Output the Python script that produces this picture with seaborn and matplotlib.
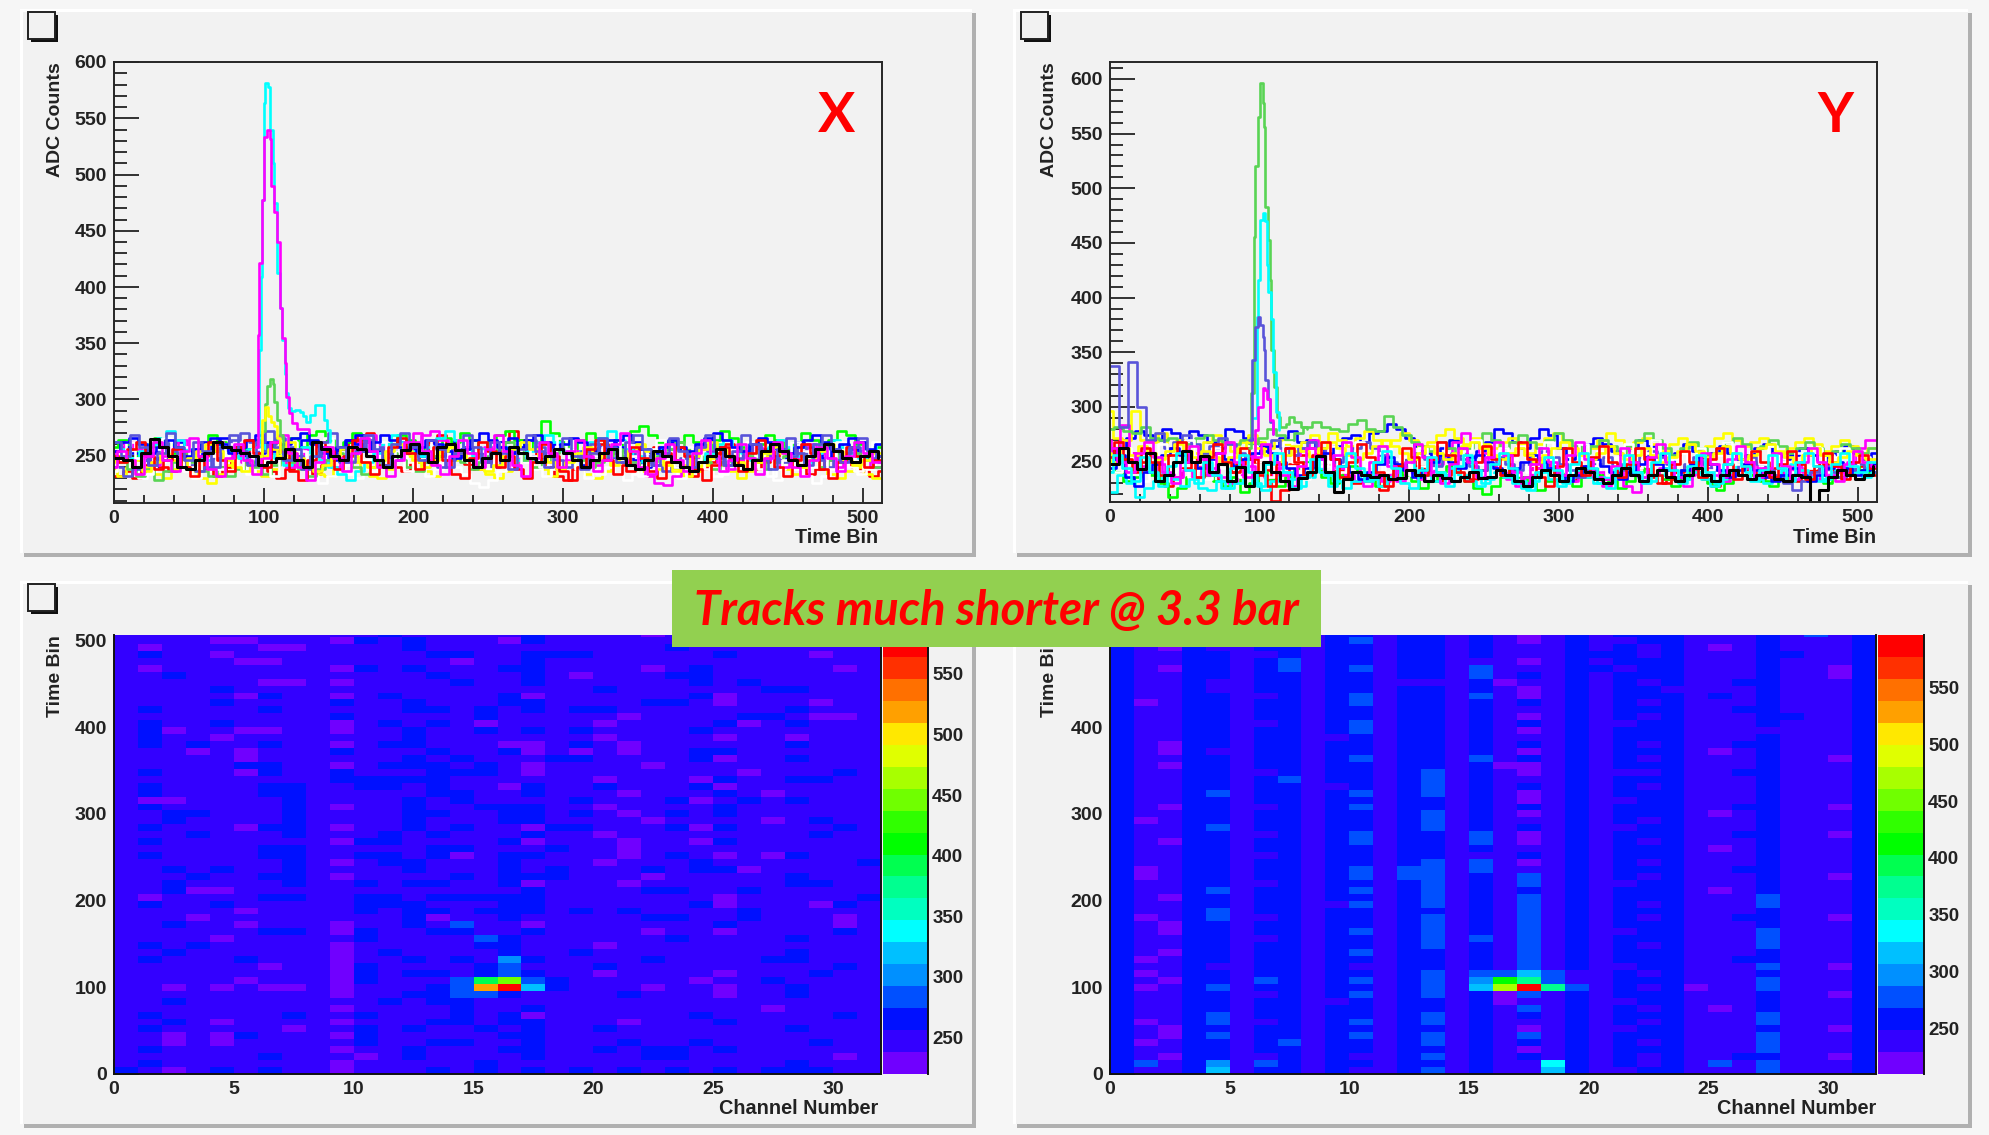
import numpy as np
import pandas as pd
import matplotlib
matplotlib.use('Agg')
import matplotlib.pyplot as plt
from matplotlib.colors import ListedColormap
from matplotlib.patches import Rectangle
from matplotlib.ticker import MultipleLocator
import seaborn as sns

# Trace colours (ROOT colour indices 2..10, then black on top)
RED = '#ff0000'
GREEN = '#00ff00'
BLUE = '#0000ff'
YELLOW = '#ffff00'
MAGENTA = '#ff00ff'
CYAN = '#00ffff'
SOFTGREEN = '#59d454'
VIOLET = '#5954d9'
WHITE = '#ffffff'
BLACK = '#000000'

# one value every 6 time bins
trace_bins = list(range(0, 516, 6))

# ---- X plane, baseline of each channel ----
x_red = [232, 236, 230, 242, 248, 240, 236, 245, 252, 246, 238, 232, 240, 248, 256, 250, 242, 236, 230, 238, 246, 240,
         234, 242, 250, 258, 262, 268, 270, 256, 248, 240, 236, 244, 252, 262, 268, 258, 250, 243, 238, 244, 254, 262,
         272, 264, 256, 248, 240, 232, 228, 238, 246, 254, 260, 252, 244, 236, 242, 250, 258, 252, 246, 240, 232, 238,
         244, 252, 260, 254, 246, 238, 244, 250, 256, 248, 240, 234, 238, 246, 254, 246, 240, 236, 232, 236]
x_green = [258, 264, 256, 250, 258, 266, 260, 252, 246, 254, 262, 268, 262, 255, 248, 256, 264, 258, 252, 260, 266, 258,
           268, 272, 264, 256, 262, 270, 264, 258, 254, 260, 268, 264, 256, 250, 258, 266, 262, 270, 264, 256, 262, 268,
           272, 264, 258, 262, 281, 270, 262, 256, 264, 270, 266, 258, 254, 262, 272, 276, 268, 262, 256, 262, 268, 262,
           256, 264, 272, 266, 258, 252, 260, 268, 264, 256, 262, 270, 264, 258, 264, 272, 268, 260, 254, 258]
x_blue = [262, 258, 252, 246, 240, 248, 256, 262, 254, 246, 252, 260, 266, 258, 250, 244, 252, 260, 254, 248, 256, 264,
          260, 252, 246, 256, 264, 268, 262, 254, 248, 256, 262, 256, 250, 244, 250, 258, 264, 258, 252, 246, 254, 262,
          266, 258, 250, 246, 252, 260, 256, 248, 242, 250, 258, 264, 258, 252, 246, 240, 248, 256, 262, 256, 250, 258,
          264, 258, 250, 244, 252, 260, 256, 250, 246, 254, 262, 258, 252, 248, 254, 260, 256, 250, 246, 250]
x_yellow = [238, 232, 240, 246, 240, 234, 230, 238, 244, 236, 230, 226, 234, 242, 248, 242, 236, 232, 238, 244, 252, 246,
            240, 234, 232, 240, 248, 244, 238, 232, 230, 238, 246, 250, 244, 236, 232, 240, 246, 252, 246, 238, 234, 230,
            236, 244, 250, 244, 238, 232, 240, 246, 240, 234, 230, 236, 244, 248, 242, 236, 232, 238, 244, 238, 232, 236,
            242, 248, 242, 236, 230, 236, 244, 250, 244, 238, 234, 240, 246, 240, 234, 230, 236, 240, 234, 230]
x_magenta = [246, 254, 262, 256, 248, 242, 250, 258, 264, 256, 248, 254, 262, 256, 250, 244, 252, 258, 252, 246, 240, 248,
             256, 250, 244, 240, 248, 256, 262, 268, 260, 252, 246, 254, 262, 268, 272, 264, 256, 250, 244, 252, 258, 252,
             246, 240, 248, 256, 250, 244, 238, 246, 254, 248, 242, 248, 256, 250, 244, 238, 232, 226, 224, 232, 240, 248,
             256, 250, 244, 238, 246, 254, 258, 252, 246, 240, 246, 254, 260, 252, 246, 240, 246, 252, 246, 240]
x_cyan = [262, 256, 248, 254, 260, 266, 272, 264, 256, 250, 246, 254, 260, 254, 248, 256, 262, 256, 248, 242, 250, 258,
          252, 246, 240, 234, 228, 236, 244, 252, 260, 268, 262, 254, 250, 258, 266, 272, 264, 256, 250, 256, 262, 258,
          252, 246, 254, 262, 268, 262, 254, 248, 254, 262, 266, 272, 264, 256, 250, 244, 250, 258, 264, 258, 252, 246,
          252, 260, 264, 258, 252, 246, 252, 258, 264, 258, 250, 244, 252, 260, 264, 258, 252, 248, 254, 260]
x_softgreen = [250, 244, 238, 232, 238, 228, 236, 244, 252, 244, 236, 232, 240, 232, 238, 246, 240, 234, 242, 250, 244, 238,
               232, 238, 246, 252, 246, 240, 234, 240, 246, 252, 246, 240, 236, 244, 250, 256, 250, 244, 238, 244, 250, 256,
               262, 254, 246, 240, 246, 252, 258, 252, 246, 240, 244, 250, 256, 250, 244, 238, 244, 250, 256, 262, 256, 250,
               244, 238, 244, 250, 256, 250, 244, 238, 244, 250, 256, 252, 246, 240, 246, 252, 258, 252, 246, 240]
x_violet = [240, 232, 238, 246, 254, 262, 254, 248, 242, 236, 240, 248, 256, 264, 270, 262, 254, 260, 266, 258, 250, 244,
            250, 258, 252, 244, 250, 258, 264, 258, 252, 246, 252, 258, 252, 246, 240, 246, 252, 258, 252, 246, 240, 246,
            252, 258, 264, 258, 252, 246, 240, 246, 254, 260, 254, 248, 244, 250, 256, 250, 242, 236, 240, 248, 254, 260,
            254, 248, 242, 248, 254, 260, 254, 248, 244, 250, 258, 252, 246, 240, 246, 252, 258, 254, 248, 244]
x_white = [254, 246, 238, 230, 236, 244, 250, 244, 236, 230, 236, 244, 252, 246, 240, 234, 240, 248, 254, 262, 250, 238,
           232, 226, 232, 240, 234, 230, 238, 246, 252, 258, 250, 244, 238, 232, 238, 246, 240, 234, 226, 222, 228, 236,
           244, 250, 244, 238, 232, 238, 246, 252, 246, 240, 234, 240, 234, 228, 234, 242, 248, 242, 236, 230, 236, 244,
           238, 232, 238, 246, 252, 246, 238, 232, 238, 244, 238, 232, 226, 232, 240, 246, 240, 234, 238, 244]
x_blue2 = [254, 262, 266, 260, 252, 258, 264, 258, 250, 256, 262, 266, 260, 252, 258, 264, 268, 262, 254, 260, 266, 270,
           264, 258, 252, 258, 264, 260, 254, 262, 268, 264, 258, 252, 258, 264, 260, 254, 248, 256, 264, 270, 264, 258,
           252, 258, 264, 268, 262, 256, 260, 266, 262, 256, 252, 258, 264, 268, 262, 256, 252, 258, 264, 258, 254, 260,
           266, 270, 264, 258, 254, 260, 266, 262, 256, 252, 258, 264, 268, 262, 256, 260, 266, 262, 256, 260]
x_yellow2 = [244, 250, 246, 240, 236, 244, 252, 246, 240, 248, 254, 260, 254, 246, 240, 236, 242, 250, 256, 250, 262, 248,
             242, 236, 242, 250, 256, 250, 244, 240, 246, 254, 260, 254, 246, 240, 246, 254, 258, 252, 246, 240, 236, 242,
             250, 256, 262, 256, 250, 244, 238, 244, 252, 258, 252, 246, 242, 248, 254, 260, 254, 248, 242, 236, 242, 250,
             256, 262, 256, 250, 244, 238, 244, 252, 258, 252, 246, 240, 246, 254, 260, 254, 246, 242, 246, 252]
x_red2 = [250, 244, 256, 262, 250, 238, 246, 256, 240, 232, 250, 262, 246, 236, 258, 264, 252, 240, 262, 254, 236, 228,
          246, 262, 254, 238, 250, 264, 244, 234, 242, 258, 266, 252, 238, 246, 258, 246, 234, 230, 248, 262, 254, 240,
          250, 238, 230, 244, 260, 250, 236, 228, 240, 256, 264, 246, 234, 242, 258, 248, 236, 230, 244, 258, 250, 238,
          228, 242, 258, 248, 236, 252, 264, 254, 240, 232, 246, 260, 252, 238, 230, 244, 258, 250, 240, 246]
x_violet2 = [262, 250, 268, 258, 242, 252, 270, 258, 246, 262, 254, 240, 258, 268, 254, 242, 262, 272, 258, 246, 256, 238,
             250, 262, 270, 258, 244, 254, 268, 256, 242, 260, 270, 258, 246, 264, 256, 240, 252, 268, 258, 244, 262, 252,
             238, 256, 268, 254, 240, 256, 266, 250, 238, 252, 266, 258, 244, 262, 268, 256, 242, 252, 266, 254, 240, 258,
             268, 256, 242, 254, 268, 260, 246, 238, 256, 266, 252, 242, 260, 268, 256, 244, 258, 266, 254, 250]
x_magenta2 = [240, 254, 246, 234, 250, 262, 246, 236, 254, 266, 250, 238, 232, 248, 260, 246, 234, 248, 262, 268, 252, 240,
              228, 244, 258, 248, 236, 252, 266, 254, 240, 232, 246, 262, 270, 254, 242, 234, 250, 264, 252, 240, 256, 268,
              254, 242, 232, 248, 262, 252, 240, 254, 264, 250, 236, 246, 260, 270, 254, 240, 234, 248, 260, 246, 236, 252,
              264, 250, 236, 246, 260, 248, 234, 248, 262, 252, 240, 232, 246, 258, 248, 236, 250, 262, 252, 244]
x_white2 = [236, 252, 262, 248, 234, 256, 266, 250, 258, 240, 262, 250, 238, 260, 252, 236, 256, 244, 232, 250, 262, 254,
            240, 258, 266, 250, 242, 258, 246, 236, 262, 246, 258, 236, 252, 264, 246, 234, 258, 264, 244, 254, 238, 260,
            252, 238, 262, 250, 240, 256, 266, 256, 238, 230, 250, 258, 246, 262, 250, 232, 256, 264, 248, 240, 258, 246,
            262, 250, 234, 256, 240, 262, 250, 254, 228, 246, 262, 254, 240, 256, 238, 262, 250, 236, 254, 262]
x_black = [248, 246, 240, 252, 265, 258, 250, 240, 238, 246, 252, 262, 258, 255, 252, 250, 242, 244, 248, 256, 246, 240,
           262, 256, 250, 246, 258, 256, 250, 246, 240, 250, 255, 260, 252, 244, 258, 260, 255, 246, 240, 248, 252, 246,
           258, 252, 248, 244, 250, 256, 252, 246, 240, 246, 252, 256, 248, 242, 238, 246, 254, 250, 244, 240, 236, 244,
           250, 256, 250, 242, 238, 246, 254, 260, 254, 246, 242, 250, 256, 260, 254, 248, 244, 250, 254, 248]

# signal pulses around bin 100
x_magenta_peak_bins = [95, 96, 97, 99, 100, 102, 104, 105, 107, 109, 111, 112, 114, 115, 117, 119, 122, 130]
x_magenta_peak = [258, 357, 421, 477, 533, 540, 532, 490, 467, 440, 381, 355, 332, 302, 288, 279, 274, 270]
x_cyan_peak_bins = [96, 97, 98, 99, 100, 101, 103, 104, 106, 107, 109, 111, 112, 114, 115, 116, 118, 121, 124, 126, 128,
                    131, 134, 139, 140, 142, 144]
x_cyan_peak = [258, 344, 409, 477, 564, 581, 578, 540, 510, 475, 412, 381, 353, 323, 306, 292, 290, 291, 289, 285, 280,
               286, 295, 295, 282, 273, 262]
x_softgreen_peak_bins = [97, 99, 101, 102, 104, 106, 107, 109, 111, 113]
x_softgreen_peak = [250, 272, 296, 312, 318, 314, 298, 282, 268, 256]
x_yellow_peak_bins = [97, 99, 101, 103, 105, 107, 109, 111]
x_yellow_peak = [250, 282, 293, 285, 280, 276, 266, 252]

# ---- Y plane, baseline of each channel ----
y_red = [262, 270, 258, 250, 240, 232, 228, 236, 244, 252, 246, 238, 232, 240, 248, 256, 250, 242, 214, 224, 248, 256,
         262, 256, 248, 242, 236, 230, 232, 238, 224, 236, 244, 252, 246, 238, 232, 238, 246, 240, 234, 242, 250, 244,
         238, 232, 236, 244, 252, 246, 238, 232, 240, 246, 240, 234, 238, 244, 250, 244, 236, 230, 234, 240, 246, 240,
         234, 228, 234, 240, 246, 240, 234, 238, 244, 238, 232, 236, 242, 248, 242, 236, 240, 246, 242, 238]
y_green = [250, 240, 232, 236, 244, 238, 230, 218, 226, 236, 244, 238, 232, 228, 236, 222, 230, 240, 234, 228, 236, 244,
           250, 244, 236, 230, 238, 246, 240, 234, 228, 236, 244, 238, 232, 226, 232, 240, 246, 240, 232, 226, 220, 228,
           236, 242, 236, 230, 224, 232, 240, 234, 228, 236, 244, 238, 232, 226, 232, 240, 246, 240, 234, 228, 234, 242,
           236, 230, 224, 230, 238, 244, 238, 232, 228, 234, 240, 246, 240, 234, 230, 236, 242, 248, 242, 240]
y_blue = [258, 262, 272, 278, 274, 270, 280, 276, 270, 278, 274, 268, 262, 280, 278, 272, 268, 260, 264, 272, 278, 268,
          270, 262, 256, 264, 272, 274, 268, 276, 278, 284, 280, 272, 264, 258, 252, 262, 270, 262, 254, 260, 268, 280,
          276, 268, 262, 272, 280, 274, 262, 252, 258, 266, 272, 266, 260, 254, 262, 270, 264, 256, 250, 258, 266, 260,
          254, 258, 264, 258, 252, 256, 262, 266, 258, 252, 256, 262, 256, 250, 254, 260, 264, 258, 252, 258]
y_yellow = [296, 272, 270, 296, 270, 268, 276, 262, 270, 264, 258, 268, 274, 266, 260, 268, 274, 268, 262, 270, 266, 260,
            268, 274, 268, 276, 270, 264, 272, 278, 270, 264, 270, 276, 270, 262, 268, 274, 280, 272, 266, 272, 266, 262,
            268, 272, 266, 258, 266, 272, 276, 270, 262, 256, 262, 270, 276, 270, 262, 268, 272, 266, 260, 266, 272, 266,
            258, 264, 272, 276, 270, 264, 268, 272, 264, 258, 262, 268, 272, 266, 260, 264, 270, 264, 258, 262]
y_magenta = [270, 252, 283, 258, 246, 240, 248, 240, 236, 242, 236, 248, 244, 236, 230, 238, 246, 240, 236, 244, 262, 256,
             262, 270, 262, 252, 244, 238, 232, 228, 238, 232, 240, 246, 240, 234, 240, 248, 254, 268, 276, 270, 258, 248,
             240, 234, 228, 236, 244, 250, 244, 238, 232, 240, 246, 240, 234, 240, 228, 222, 230, 238, 244, 238, 232, 238,
             250, 244, 238, 232, 238, 244, 250, 244, 238, 234, 240, 246, 240, 234, 240, 246, 240, 250, 262, 270]
y_cyan = [222, 238, 230, 218, 226, 232, 240, 234, 228, 234, 226, 224, 232, 226, 230, 236, 230, 224, 232, 240, 234, 228,
          236, 244, 238, 232, 226, 232, 240, 234, 228, 236, 244, 250, 244, 238, 232, 238, 244, 238, 232, 228, 234, 240,
          236, 230, 226, 232, 240, 234, 228, 236, 242, 236, 230, 236, 242, 248, 242, 236, 232, 238, 244, 238, 234, 240,
          234, 228, 234, 240, 246, 240, 234, 230, 236, 242, 248, 242, 236, 232, 236, 242, 246, 240, 236, 240]
y_softgreen = [280, 282, 278, 276, 282, 272, 270, 272, 268, 266, 272, 274, 270, 268, 266, 270, 266, 272, 280, 274, 270, 276,
               282, 286, 282, 280, 278, 284, 288, 280, 278, 292, 282, 274, 268, 264, 260, 268, 262, 256, 262, 268, 276, 270,
               262, 268, 274, 268, 262, 270, 276, 270, 264, 258, 264, 270, 264, 258, 264, 270, 276, 270, 262, 256, 262, 268,
               262, 256, 262, 268, 272, 266, 260, 264, 270, 264, 258, 262, 268, 262, 256, 260, 266, 262, 258, 262]
y_violet = [337, 282, 341, 300, 270, 276, 262, 268, 274, 266, 258, 264, 272, 266, 258, 252, 258, 264, 270, 262, 256, 262,
            268, 262, 256, 250, 256, 262, 268, 262, 256, 250, 246, 252, 258, 252, 246, 252, 258, 252, 246, 242, 248, 254,
            248, 242, 248, 254, 260, 254, 248, 242, 236, 242, 248, 254, 248, 242, 248, 254, 260, 254, 248, 242, 248, 254,
            248, 242, 236, 242, 248, 254, 248, 242, 238, 230, 224, 232, 240, 246, 240, 236, 242, 248, 244, 240]
y_white = [246, 254, 248, 244, 240, 248, 254, 248, 242, 236, 242, 250, 256, 250, 244, 252, 258, 252, 246, 252, 246, 240,
           248, 256, 250, 244, 250, 258, 252, 246, 240, 246, 252, 246, 240, 246, 252, 258, 252, 246, 240, 248, 256, 250,
           244, 238, 244, 252, 258, 252, 246, 240, 246, 252, 246, 240, 246, 252, 258, 252, 246, 240, 246, 252, 258, 252,
           246, 240, 246, 252, 246, 240, 244, 250, 256, 250, 244, 238, 244, 250, 256, 250, 244, 248, 254, 248]
y_blue2 = [244, 256, 236, 228, 240, 248, 256, 262, 256, 250, 244, 252, 258, 252, 246, 252, 258, 264, 258, 250, 244, 238,
           244, 252, 258, 252, 246, 240, 234, 240, 248, 254, 248, 242, 236, 242, 250, 256, 250, 244, 250, 256, 250, 244,
           238, 244, 250, 256, 250, 244, 238, 232, 238, 246, 252, 246, 240, 234, 240, 248, 254, 248, 242, 236, 242, 248,
           254, 248, 242, 236, 242, 248, 242, 236, 232, 238, 244, 238, 232, 238, 244, 250, 244, 238, 242, 248]
y_yellow2 = [258, 250, 262, 256, 264, 258, 252, 260, 266, 260, 254, 260, 254, 248, 254, 262, 268, 262, 256, 250, 256, 264,
             260, 254, 262, 268, 262, 256, 252, 258, 264, 270, 264, 258, 252, 258, 264, 258, 252, 258, 264, 268, 262, 256,
             252, 258, 262, 256, 250, 256, 262, 268, 262, 256, 252, 258, 264, 258, 252, 256, 262, 256, 250, 254, 260, 266,
             260, 254, 258, 264, 258, 252, 256, 262, 266, 260, 254, 250, 256, 262, 256, 250, 254, 260, 256, 252]
y_magenta2 = [262, 250, 240, 258, 268, 254, 240, 230, 250, 264, 252, 238, 258, 268, 250, 236, 254, 266, 250, 238, 228, 246,
              262, 252, 240, 256, 268, 254, 238, 250, 264, 246, 232, 250, 266, 254, 238, 230, 248, 262, 250, 236, 254, 268,
              256, 240, 230, 248, 262, 250, 238, 256, 268, 252, 236, 228, 246, 262, 250, 236, 254, 266, 250, 236, 228, 244,
              258, 248, 236, 252, 264, 250, 236, 244, 258, 246, 234, 250, 262, 250, 238, 232, 248, 260, 250, 246]
y_cyan2 = [240, 256, 244, 232, 254, 240, 228, 246, 258, 242, 230, 250, 238, 226, 244, 256, 240, 228, 248, 258, 240, 226,
           236, 252, 240, 228, 246, 258, 244, 232, 250, 260, 244, 230, 226, 242, 254, 240, 228, 246, 256, 242, 230, 248,
           258, 244, 232, 224, 240, 254, 242, 230, 248, 258, 244, 230, 226, 244, 256, 240, 230, 250, 258, 242, 230, 246,
           256, 240, 230, 248, 258, 246, 232, 242, 256, 244, 232, 250, 258, 246, 234, 248, 258, 246, 240, 250]
y_red2 = [254, 268, 252, 240, 262, 250, 238, 256, 268, 250, 236, 254, 266, 250, 240, 262, 252, 238, 228, 248, 262, 250,
          238, 256, 268, 252, 236, 250, 266, 254, 240, 228, 246, 262, 254, 238, 252, 268, 256, 240, 232, 250, 264, 252,
          238, 256, 268, 252, 236, 228, 246, 262, 250, 238, 254, 264, 250, 236, 248, 262, 252, 238, 230, 248, 260, 250,
          236, 252, 262, 248, 234, 246, 260, 250, 236, 248, 260, 248, 234, 246, 258, 246, 234, 250, 256, 244]
y_white2 = [256, 240, 262, 250, 232, 254, 266, 240, 256, 270, 248, 234, 262, 244, 256, 236, 264, 250, 236, 258, 268, 250,
            234, 260, 246, 264, 240, 254, 268, 246, 258, 240, 264, 254, 238, 262, 244, 266, 256, 236, 260, 270, 250, 238,
            262, 252, 264, 240, 256, 268, 246, 234, 258, 266, 246, 260, 238, 254, 266, 244, 258, 270, 250, 238, 258, 246,
            262, 242, 256, 268, 248, 238, 260, 248, 264, 252, 240, 258, 246, 262, 240, 254, 262, 246, 256, 248]
y_black = [248, 262, 250, 243, 258, 232, 238, 250, 260, 250, 255, 240, 248, 232, 245, 228, 240, 250, 240, 232, 225, 235,
           240, 255, 240, 222, 234, 240, 238, 236, 238, 234, 235, 242, 238, 232, 238, 235, 232, 236, 240, 235, 236, 242,
           238, 232, 228, 236, 242, 238, 232, 238, 244, 240, 234, 230, 238, 244, 238, 232, 238, 242, 236, 232, 238, 244,
           238, 232, 238, 242, 238, 234, 238, 240, 234, 232, 238, 236, 212, 224, 236, 242, 238, 234, 238, 246]

y_softgreen_peak_bins = [93, 94, 96, 97, 99, 100, 102, 103, 104, 106, 107, 108, 110, 112, 114, 118, 120, 123, 128, 132]
y_softgreen_peak = [262, 313, 455, 520, 565, 596, 578, 556, 483, 453, 416, 352, 318, 291, 282, 284, 291, 286, 282, 280]
y_cyan_peak_bins = [96, 98, 99, 100, 102, 104, 105, 106, 108, 109, 111, 113]
y_cyan_peak = [290, 382, 416, 471, 477, 470, 430, 405, 380, 332, 295, 279]
y_violet_peak_bins = [93, 95, 97, 99, 100, 102, 103, 104, 106, 107, 109]
y_violet_peak = [270, 343, 373, 382, 375, 364, 352, 325, 307, 286, 275]
y_magenta_peak_bins = [94, 97, 99, 102, 104, 105, 107, 109]
y_magenta_peak = [255, 279, 300, 317, 315, 307, 288, 275]

# ---- 2D maps, one char per cell = colour level, rows from time bin 512 down to 0, 8 bins per row ----
left_map = [
    '1111 1111 1112 1111 1211 1101 1111 1111', '1111 0011 1021 2111 0211 1111 2211 1111',
    '1011 1100 1111 2111 1111 1112 1111 1111', '1211 0111 1111 1221 1222 1111 1211 1011',
    '1111 1001 1111 1101 1211 1111 1111 1111', '1011 1111 1021 2111 2211 1101 2111 1101',
    '1121 1111 1111 1211 1210 1112 2111 1111', '1111 1100 1011 1121 1211 1111 2121 1111',
    '1111 2111 1111 1111 1111 2111 1112 2111', '1111 1021 1012 1111 2011 1111 2011 1111',
    '1111 2111 1211 2111 2211 1122 1011 1011', '1211 1121 1111 2212 1212 2111 1111 2111',
    '1111 1111 1211 1112 1111 1011 1122 1001', '1211 2111 1012 1210 1111 0111 1201 2111',
    '1201 1001 1011 2112 1212 1111 2111 1111', '1211 0111 1111 2111 1111 0111 1011 0111',
    '1212 1121 1012 2111 0012 1011 1111 2111', '1110 1011 1211 1211 2010 1011 2211 1111',
    '1111 1011 1111 2121 1122 1111 2011 2111', '1111 1221 1012 2212 1011 1101 1111 1111',
    '1211 1021 1211 1222 1011 1111 1101 1121', '1111 1111 1222 2211 1111 0111 0211 2211',
    '1211 1122 1122 1211 0211 2111 2011 1111', '1211 1122 1111 1221 1211 1011 1210 1111',
    '1001 1112 1111 2121 1112 1112 0121 2111', '1211 1112 1011 2112 2211 0111 1211 1111',
    '1122 1112 1111 2211 2212 1012 1211 1111', '1121 1112 1111 2111 2211 1101 1110 1211',
    '1211 1022 1011 2121 1022 1112 0211 1121', '1112 1112 1112 1211 1211 0111 1111 1211',
    '1211 1111 1022 1111 2011 1011 0211 1111', '1111 1122 1111 1221 1121 1011 1111 1111',
    '1211 1122 1122 1201 2211 1012 1010 2111', '1111 1112 1012 2111 2111 0111 2111 1112',
    '1121 2112 1111 2111 2121 1121 2201 1111', '1112 1122 1011 1121 2221 1101 1111 2111',
    '1121 1112 1121 2211 2011 1011 1111 2211', '1120 0111 1111 1111 1211 1122 1121 1111',
    '1011 1122 1122 1222 2211 1111 1011 1112', '1211 2111 1122 2111 2211 1111 2011 1021',
    '1111 1011 1121 2212 2212 1211 1121 1111', '1110 1111 1111 2011 2111 1122 1121 1101',
    '1121 1011 1011 2131 1011 1111 1211 1101', '1111 1122 1021 1221 1211 1101 1011 1121',
    '1111 0111 1121 1113 2111 1112 1111 2111', '1212 1111 1011 1112 2111 0111 1111 1111',
    '1121 1111 1012 1111 2112 1111 1111 2111', '1211 1211 1011 2121 4211 1121 1112 2111',
    '1111 1101 1021 1112 3111 2111 1111 1121', '1111 1111 1021 2212 3211 0111 1011 1211',
    '1111 1011 1021 1139 c321 1111 0112 1111', '1101 0100 1011 123g j521 1101 1011 2111',
    '1111 1111 1011 2233 2111 1211 1011 2111', '1121 1111 1112 1221 1111 1111 1111 1111',
    '1111 1111 1011 1121 1211 1111 1110 1111', '1211 1112 1121 1121 2011 1111 2111 1121',
    '1121 0111 1011 1221 2211 1011 1211 1111', '1211 1110 1121 2112 1211 2111 1111 2111',
    '1101 0211 1021 1111 2211 1111 1111 1111', '1101 0111 1121 1221 1211 1211 2111 1211',
    '1211 1111 1011 2111 2211 2122 1211 1111', '1111 1121 1101 2111 1211 1122 1111 1101',
    '1211 1111 1011 1112 1111 1111 1111 2111', '2101 2121 1011 1212 1212 1212 1212 2211',
]
right_map = [
    '2112 2122 1221 2212 1012 1222 1112 1312', '2112 2112 1231 2212 1012 1122 1112 1112',
    '2102 1122 1221 2212 1112 1212 1012 1112', '2112 2112 1221 2212 1112 2212 1112 2112',
    '2112 2123 1221 2211 1012 1222 1112 1112', '2102 2123 1231 2213 1112 2122 1112 1102',
    '2112 2122 1221 2213 1212 1222 1112 1102', '2112 1122 1221 1112 0112 1212 1122 1112',
    '2112 1122 1221 2212 1012 1221 1112 1112', '2112 2112 1231 2213 1012 1222 1212 1112',
    '2012 2122 1231 2212 1212 1212 1112 1112', '2112 2122 1221 2212 1112 1222 1122 1112',
    '2112 2122 1221 2212 1012 1212 1112 2112', '2112 2112 1231 2212 1212 1122 1112 1112',
    '2112 2122 1231 2212 1012 1222 1111 1112', '2112 2122 1121 2212 1112 1222 1112 1112',
    '2102 2122 1221 2212 1212 1212 1122 1112', '2102 1122 1221 2212 1012 1222 1012 1112',
    '2112 2122 1231 2213 1212 1212 1112 1102', '2102 2122 1221 2212 0012 1222 1112 1112',
    '2112 2112 1221 2312 1012 1112 1122 1112', '2112 2123 1221 2312 1112 1222 1112 1112',
    '2112 2122 1121 2312 1212 1212 1112 1112', '2112 3122 1231 2312 1012 1222 1112 1112',
    '2112 2122 1221 2212 1012 1122 1112 1112', '2102 2112 1231 2212 1212 1222 1122 1102',
    '2112 2122 1221 2312 1012 1222 1012 1112', '2012 2122 1221 2312 1112 1212 1112 1112',
    '2112 3122 1221 2312 1212 1122 1112 1112', '2112 2112 1231 2213 1012 1222 1122 1102',
    '2102 2122 1231 2213 1012 1212 1112 1112', '2112 2122 1221 2212 1112 1222 1012 1112',
    '2112 2112 1221 2211 1212 1222 1112 1112', '2112 2122 1221 2313 1012 1212 1112 1112',
    '2012 2122 1231 3313 1112 1222 1122 1112', '2012 2122 1231 3312 1312 1212 1112 1102',
    '2112 2112 1221 2312 1312 1122 1112 1112', '2112 3122 1231 2312 1212 1222 1012 1112',
    '2102 2122 1221 2312 1312 1222 1113 1112', '2112 2122 1131 2312 1312 1212 1113 1112',
    '2112 3122 1221 2212 1312 1222 1112 1112', '2012 3112 1221 2312 1312 1212 1122 1102',
    '2102 2122 1221 2312 1312 1222 1112 1112', '2102 2122 1231 2312 1312 1122 1113 1112',
    '2112 2112 1221 2313 1312 1222 1113 1112', '2112 2122 1221 2312 1312 1212 1113 1112',
    '2102 2122 1231 2212 1312 1222 1112 1112', '2012 2122 1221 2212 1312 1222 1122 1112',
    '2112 1122 1211 2212 1312 1122 1113 1102', '2012 2122 1221 2313 3531 1212 1112 1112',
    '2102 2132 1231 2314 a831 1222 1113 1112', '2012 3122 1221 2315 dj83 1212 0113 1112',
    '2112 2112 1231 2312 0312 1222 1112 1102', '2112 2122 1121 2212 0112 1122 1112 1112',
    '2112 2122 1221 2212 1312 1212 1012 1112', '2112 3122 1221 2312 1212 1222 1113 1112',
    '2012 3112 1231 2312 1112 1212 1113 1112', '2102 2122 1221 2212 1012 1122 1112 1102',
    '2102 3122 1231 2312 1312 1222 1113 1112', '2012 2123 1221 2312 1212 1212 1113 1112',
    '2112 2122 1221 2212 1012 1222 1113 1112', '2102 2112 1211 2312 1212 1212 1122 1102',
    '2312 4132 1221 2212 1162 1212 1313 1112', '2112 5122 1211 2312 1152 1122 1113 1112',
]

# colour levels of the ROOT palette, 20 contours from bottom to top of the palette bar
level_colors = ['#7000ff', '#3300ff', '#0010ff', '#0050ff', '#0090ff', '#00c0ff', '#00ffff', '#00ffc0', '#00ff90',
                '#00ff50', '#00ff00', '#30ff00', '#70ff00', '#a8ff00', '#e0ff00', '#ffe800', '#ffa000', '#ff7000',
                '#ff3000', '#ff0000']
left_range = (220, 582)
right_range = (210, 596)

sns.set_theme(style='ticks')
plt.rcParams['font.family'] = ['Liberation Sans', 'DejaVu Sans']
plt.rcParams['font.weight'] = 'bold'
plt.rcParams['axes.linewidth'] = 1.4
plt.rcParams['text.color'] = '#222222'
plt.rcParams['xtick.color'] = '#222222'
plt.rcParams['ytick.color'] = '#222222'

W, H = 1990, 1135
PAD_COLOR = '#f2f2f2'
fig = plt.figure(figsize=(W / 100, H / 100), dpi=100, facecolor='#f6f6f6')


def px_rect(x0, y0, x1, y1, **kw):
    fig.add_artist(Rectangle((x0 / W, 1 - y1 / H), (x1 - x0) / W, (y1 - y0) / H, transform=fig.transFigure, **kw))


def px_axes(x0, y0, x1, y1):
    return fig.add_axes([x0 / W, 1 - y1 / H, (x1 - x0) / W, (y1 - y0) / H])


def px_text(x, y, s, **kw):
    fig.text(x / W, 1 - y / H, s, **kw)


def pad(x0, y0, x1, y1, box=True):
    px_rect(x0 + 4, y0 + 4, x1 + 4, y1 + 4, fc='#b0b0b0', ec='none', zorder=-5)
    px_rect(x0, y0, x1, y1, fc='white', ec='none', zorder=-4)
    px_rect(x0 + 3, y0 + 3, x1, y1, fc=PAD_COLOR, ec='none', zorder=-3)
    if box:
        bx, by = x0 + 8, y0 + 3
        px_rect(bx + 3, by + 3, bx + 30, by + 30, fc='#111111', ec='none', zorder=-2)
        px_rect(bx, by, bx + 27, by + 27, fc=PAD_COLOR, ec='#222222', lw=1.4, zorder=-1)


pad(20, 9, 972, 553)
pad(1013, 9, 1968, 553)
pad(20, 581, 972, 1124)
pad(1013, 581, 1968, 1124, box=False)

# channels do not step on the same bins, shift each one a little
bin_shifts = [0, 3, 1, 4, 2, 5, 1, 3, 0, 4, 2, 5, 3, 1, 4]


def trace_panel(ax, traces, peaks, ylim):
    for i, (color, values) in enumerate(traces):
        bins = [max(b - bin_shifts[i], 0) for b in trace_bins[:len(values)]] + [513]
        sns.lineplot(x=bins, y=values + [values[-1]], ax=ax, color=color, lw=1.9,
                     drawstyle='steps-post', estimator=None, errorbar=None, legend=False)
    for color, bins, values in peaks:
        sns.lineplot(x=bins, y=values, ax=ax, color=color, lw=1.9, drawstyle='steps-post',
                     estimator=None, errorbar=None, legend=False)
    ax.set_xlim(0, 513)
    ax.set_ylim(*ylim)
    ax.set_facecolor(PAD_COLOR)
    ax.set_xlabel('')
    ax.set_ylabel('')
    ax.xaxis.set_major_locator(MultipleLocator(100))
    ax.xaxis.set_minor_locator(MultipleLocator(20))
    ax.yaxis.set_major_locator(MultipleLocator(50))
    ax.yaxis.set_minor_locator(MultipleLocator(10))
    ax.tick_params(axis='x', which='major', direction='in', length=11, width=1.3, labelsize=14, pad=5)
    ax.tick_params(axis='x', which='minor', direction='in', length=6, width=1.3)
    ax.tick_params(axis='y', which='major', direction='in', length=18, width=1.3, labelsize=14, pad=5)
    ax.tick_params(axis='y', which='minor', direction='in', length=9.5, width=1.3)


def map_panel(ax, cax, rows, vrange):
    lo, hi = vrange
    step = (hi - lo) / len(level_colors)
    cells = [[lo + (int(c, 36) + 0.5) * step for c in r.replace(' ', '')] for r in rows]
    df = pd.DataFrame(cells).iloc[::-1]
    sns.heatmap(df, ax=ax, cbar_ax=cax, cmap=ListedColormap(level_colors), vmin=lo, vmax=hi,
                xticklabels=False, yticklabels=False)
    ax.set_ylim(0, 63.3)
    ax.set_xlim(0, 32)
    ax.set_xlabel('')
    ax.set_ylabel('')
    for name in ('left', 'right', 'bottom'):
        ax.spines[name].set_visible(True)
        ax.spines[name].set_color('#111111')
    ax.set_xticks(range(0, 35, 5), labels=[str(v) for v in range(0, 35, 5)])
    ax.set_yticks([t / 8 for t in range(0, 600, 100)], labels=[str(t) for t in range(0, 600, 100)])
    ax.xaxis.set_minor_locator(MultipleLocator(1))
    ax.yaxis.set_minor_locator(MultipleLocator(2.5))
    ax.tick_params(axis='x', which='major', direction='in', length=11, width=1.3, labelsize=14, pad=5, color='black',
                   bottom=True, labelrotation=0)
    ax.tick_params(axis='x', which='minor', direction='in', length=6, width=1.3, color='black', bottom=True)
    ax.tick_params(axis='y', which='major', direction='in', length=18, width=1.3, labelsize=14, pad=5, color='black',
                   left=True, labelrotation=0)
    ax.tick_params(axis='y', which='minor', direction='in', length=9.5, width=1.3, color='black', left=True)
    cax.set_yticks(range(250, 600, 50), labels=[str(v) for v in range(250, 600, 50)])
    cax.yaxis.set_ticks_position('right')
    cax.tick_params(axis='y', which='major', direction='in', length=17, width=1.3, labelsize=13.5, pad=3, color='black')
    cax.spines['right'].set_visible(True)
    cax.spines['right'].set_color('#111111')


# Top panels
ax1 = px_axes(114, 62, 882, 503)
x_traces = [(RED, x_red), (GREEN, x_green), (BLUE, x_blue), (YELLOW, x_yellow), (WHITE, x_white), (MAGENTA, x_magenta),
            (CYAN, x_cyan), (SOFTGREEN, x_softgreen), (VIOLET, x_violet), (WHITE, x_white2), (BLUE, x_blue2),
            (YELLOW, x_yellow2), (RED, x_red2), (VIOLET, x_violet2), (MAGENTA, x_magenta2)]
x_peaks = [(CYAN, x_cyan_peak_bins, x_cyan_peak), (MAGENTA, x_magenta_peak_bins, x_magenta_peak),
           (SOFTGREEN, x_softgreen_peak_bins, x_softgreen_peak), (YELLOW, x_yellow_peak_bins, x_yellow_peak)]
trace_panel(ax1, x_traces, x_peaks, (208, 600))
sns.lineplot(x=trace_bins[:len(x_black)], y=x_black, ax=ax1, color=BLACK, lw=2.2, drawstyle='steps-post', estimator=None,
             errorbar=None, legend=False)

ax2 = px_axes(1110, 62, 1877, 502)
y_traces = [(RED, y_red), (GREEN, y_green), (BLUE, y_blue), (YELLOW, y_yellow), (WHITE, y_white), (MAGENTA, y_magenta),
            (CYAN, y_cyan), (SOFTGREEN, y_softgreen), (VIOLET, y_violet), (WHITE, y_white2), (BLUE, y_blue2),
            (YELLOW, y_yellow2), (RED, y_red2), (MAGENTA, y_magenta2), (CYAN, y_cyan2)]
y_peaks = [(SOFTGREEN, y_softgreen_peak_bins, y_softgreen_peak), (CYAN, y_cyan_peak_bins, y_cyan_peak),
           (VIOLET, y_violet_peak_bins, y_violet_peak), (MAGENTA, y_magenta_peak_bins, y_magenta_peak)]
trace_panel(ax2, y_traces, y_peaks, (213, 615.5))
sns.lineplot(x=trace_bins[:len(y_black)], y=y_black, ax=ax2, color=BLACK, lw=2.2, drawstyle='steps-post', estimator=None,
             errorbar=None, legend=False)

# Bottom panels
ax3 = px_axes(114, 635, 881, 1074)
cax3 = px_axes(883, 635, 928, 1074)
map_panel(ax3, cax3, left_map, left_range)
ax4 = px_axes(1110, 635, 1876, 1074)
cax4 = px_axes(1878, 635, 1924, 1074)
map_panel(ax4, cax4, right_map, right_range)

# Axis titles (ROOT places them at the end of the axis)
for x in (56, 1050):
    px_text(x, 62, 'ADC Counts', rotation=90, ha='center', va='top', fontsize=14, fontweight='bold')
    px_text(x, 635, 'Time Bin', rotation=90, ha='center', va='top', fontsize=14, fontweight='bold')
for x in (878, 1876):
    px_text(x, 537, 'Time Bin', ha='right', va='center', fontsize=14.2, fontweight='bold')
    px_text(x, 1109, 'Channel Number', ha='right', va='center', fontsize=14.3, fontweight='bold')

px_text(837, 116, 'X', ha='center', va='center', fontsize=40, fontweight='bold', color='#ff0000', family='Lato')
px_text(1835, 116, 'Y', ha='center', va='center', fontsize=40, fontweight='bold', color='#ff0000', family='Lato')

px_rect(672, 570, 1321, 647, fc='#92d050', ec='none', zorder=10)
px_text(996, 611, 'Tracks much shorter @ 3.3 bar', ha='center', va='center', fontsize=33.9, fontweight='bold',
        style='italic', color='#ff0000', family='Lato', zorder=11)

fig.savefig('out.png', dpi=100, facecolor=fig.get_facecolor())
